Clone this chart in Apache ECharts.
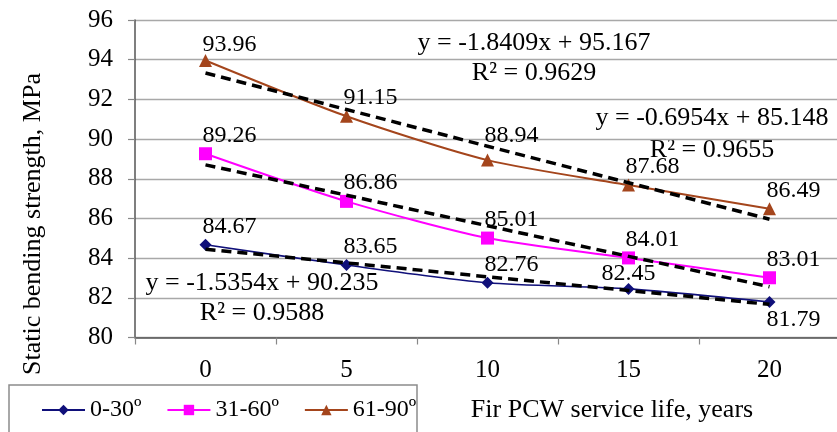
<!DOCTYPE html>
<html>
<head>
<meta charset="utf-8">
<script src="https://cdn.jsdelivr.net/npm/echarts@6/dist/echarts.min.js"></script>
<style>html,body{margin:0;padding:0;background:#fff}#c{width:837px;height:432px}</style>
</head>
<body>
<div id="c"></div>
<script>
// ---- data ----
var categories = ['0', '5', '10', '15', '20'];
var seriesNames = ['0-30º', '31-60º', '61-90º'];
var values030 = [84.67, 83.65, 82.76, 82.45, 81.79];
var values3160 = [89.26, 86.86, 85.01, 84.01, 83.01];
var values6190 = [93.96, 91.15, 88.94, 87.68, 86.49];
// linear trend lines (values at each category, read from the equations)
var trend030 = [84.45, 83.76, 83.06, 82.37, 81.67];
var trend3160 = [88.70, 87.17, 85.63, 84.09, 82.56];
var trend6190 = [93.33, 91.49, 89.64, 87.80, 85.96];
var yTicks = { min: 80, max: 96, interval: 2 };
var equations = [
  ['y = -1.8409x + 95.167', 'R² = 0.9629'],
  ['y = -0.6954x + 85.148', 'R² = 0.9655'],
  ['y = -1.5354x + 90.235', 'R² = 0.9588']
];
var xAxisTitle = 'Fir PCW service life, years';
var yAxisTitle = 'Static bending strength, MPa';

// ---- styling ----
var FONT = '"Liberation Serif", "Times New Roman", serif';
var colors = ['#10107a', '#ff00ff', '#a4451c'];
var symbols = ['diamond', 'rect', 'triangle'];
var symbolSizes = [12, 13, 13];

function buildData(vals, overrides) {
  return vals.map(function (v, i) {
    var item = { value: v };
    if (overrides && overrides[i]) item.label = overrides[i];
    return item;
  });
}

var baseLabel = {
  show: true, position: 'top', distance: 0, align: 'left', offset: [-3, 0],
  fontFamily: FONT, fontSize: 24, color: '#000',
  formatter: function (p) { return p.value.toFixed(2); }
};

var labelOverrides030 = {
  3: { align: 'center', offset: [0, 3] },
  4: { position: 'bottom', distance: 0, offset: [-3, 0] }
};
var labelOverrides6190 = {
  0: { offset: [-3, 3] },
  2: { offset: [-3, -6] }
};

function mainSeries(idx, vals, overrides) {
  return {
    name: seriesNames[idx], type: 'line', data: buildData(vals, overrides),
    smooth: 0.25, symbol: symbols[idx], symbolSize: symbolSizes[idx],
    lineStyle: { color: colors[idx], width: idx === 0 ? 1.6 : 2 },
    itemStyle: { color: colors[idx] },
    label: baseLabel, z: 3
  };
}
function trendSeries(vals) {
  return {
    type: 'line', data: vals, symbol: 'none', silent: true,
    lineStyle: { color: '#000', width: 3.5, type: [10, 6] }, z: 4
  };
}

var chart = echarts.init(document.getElementById('c'), null, { renderer: 'canvas' });
chart.setOption({
  animation: false,
  backgroundColor: '#fff',
  textStyle: { fontFamily: FONT },
  grid: { left: 135, top: 20, width: 705, height: 317.5, containLabel: false, outerBoundsMode: 'none' },
  xAxis: {
    type: 'category', data: categories, boundaryGap: true,
    axisLine: { lineStyle: { color: '#555', width: 1.5 } },
    axisTick: { show: true, length: 7, lineStyle: { color: '#888', width: 1.2 } },
    axisLabel: { fontFamily: FONT, fontSize: 25, color: '#000', margin: 20 },
    splitLine: { show: false }
  },
  yAxis: {
    type: 'value', min: yTicks.min, max: yTicks.max, interval: yTicks.interval,
    axisLine: { show: true, lineStyle: { color: '#555', width: 1.5 } },
    axisTick: { show: true, length: 7, lineStyle: { color: '#888', width: 1.2 } },
    axisLabel: { fontFamily: FONT, fontSize: 25, color: '#000', margin: 22 },
    splitLine: { lineStyle: { color: '#a8a8a8', width: 1.4 } }
  },
  legend: {
    data: seriesNames, left: 41, top: 398, padding: 0,
    itemWidth: 43, itemHeight: 13, itemGap: 25,
    textStyle: { fontFamily: FONT, fontSize: 24, color: '#000' }
  },
  series: [
    trendSeries(trend030), trendSeries(trend3160), trendSeries(trend6190),
    mainSeries(0, values030, labelOverrides030),
    mainSeries(1, values3160, null),
    mainSeries(2, values6190, labelOverrides6190)
  ],
  graphic: [
    { type: 'rect', z: -1, shape: { x: 9, y: 385, width: 408, height: 60 },
      style: { fill: '#fff', stroke: '#8c8c8c', lineWidth: 1.5 } },
    { type: 'text', x: 33, y: 224, rotation: Math.PI / 2,
      style: { text: yAxisTitle, font: '26px ' + FONT, fill: '#000', textAlign: 'center', textVerticalAlign: 'middle' } },
    { type: 'text', x: 612, y: 410,
      style: { text: xAxisTitle, font: '26px ' + FONT, fill: '#000', textAlign: 'center', textVerticalAlign: 'middle' } },
    { type: 'text', x: 534, y: 43, style: { text: equations[0][0], font: '26px ' + FONT, fill: '#000', textAlign: 'center', textVerticalAlign: 'middle' } },
    { type: 'text', x: 534, y: 73, style: { text: equations[0][1], font: '26px ' + FONT, fill: '#000', textAlign: 'center', textVerticalAlign: 'middle' } },
    { type: 'text', x: 712, y: 118, style: { text: equations[1][0], font: '26px ' + FONT, fill: '#000', textAlign: 'center', textVerticalAlign: 'middle' } },
    { type: 'text', x: 712, y: 150, style: { text: equations[1][1], font: '26px ' + FONT, fill: '#000', textAlign: 'center', textVerticalAlign: 'middle' } },
    { type: 'text', x: 262, y: 283, style: { text: equations[2][0], font: '26px ' + FONT, fill: '#000', textAlign: 'center', textVerticalAlign: 'middle' } },
    { type: 'text', x: 262, y: 313, style: { text: equations[2][1], font: '26px ' + FONT, fill: '#000', textAlign: 'center', textVerticalAlign: 'middle' } }
  ]
});
</script>
</body>
</html>
